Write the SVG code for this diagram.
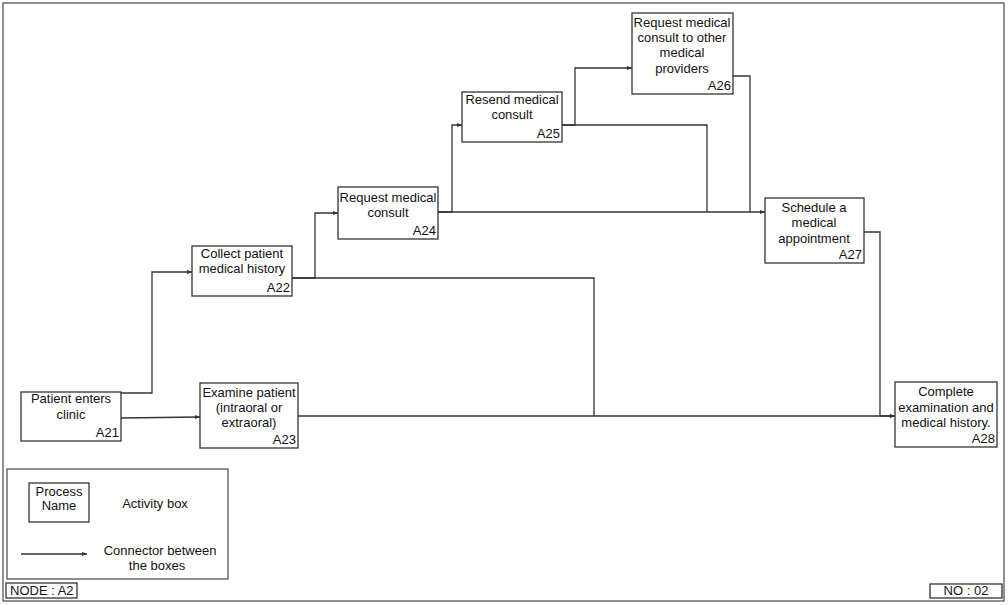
<svg xmlns="http://www.w3.org/2000/svg" width="1008" height="605" viewBox="0 0 1008 605">
<defs>
<marker id="arr" markerWidth="6" markerHeight="6" refX="5" refY="3" orient="auto" markerUnits="userSpaceOnUse">
<path d="M0,1 L5,3 L0,5 Z" fill="#333"/>
</marker>
<style>
.box{fill:#fff;stroke:#333;stroke-width:1.3}
.frame{fill:none;stroke:#555;stroke-width:1.3}
.t{font-family:"Liberation Sans",Arial,sans-serif;font-size:13px;fill:#111;text-anchor:middle}
.id{font-family:"Liberation Sans",Arial,sans-serif;font-size:13px;fill:#111;text-anchor:end}
.l{font-family:"Liberation Sans",Arial,sans-serif;font-size:13px;fill:#111}
.c{fill:none;stroke:#333;stroke-width:1.3}
</style>
</defs>
<rect x="0" y="0" width="1008" height="605" fill="#fff"/>
<rect class="frame" x="3" y="3" width="1001" height="598"/>

<g id="connectors">
<path class="c" d="M121,393 H152 V272 H192" marker-end="url(#arr)"/>
<path class="c" d="M121,418 L200,417" marker-end="url(#arr)"/>
<path class="c" d="M292,278 H315 V213 H338" marker-end="url(#arr)"/>
<path class="c" d="M292,278 H594 V416"/>
<path class="c" d="M298,416 H895" marker-end="url(#arr)"/>
<path class="c" d="M438,212 H452 V125 H462" marker-end="url(#arr)"/>
<path class="c" d="M438,212 H765" marker-end="url(#arr)"/>
<path class="c" d="M562,125 H575 V68 H632" marker-end="url(#arr)"/>
<path class="c" d="M562,125 H707 V212"/>
<path class="c" d="M733,76 H750 V212"/>
<path class="c" d="M864,232 H880 V416 H895" marker-end="url(#arr)"/>
</g>

<g id="A21">
<rect class="box" x="21" y="392" width="100" height="49"/>
<text class="t" x="71" y="403">Patient enters</text>
<text class="t" x="71" y="419">clinic</text>
<text class="id" x="119" y="437">A21</text>
</g>
<g id="A22">
<rect class="box" x="192" y="246" width="100" height="50"/>
<text class="t" x="242" y="258">Collect patient</text>
<text class="t" x="242" y="273">medical history</text>
<text class="id" x="290" y="292">A22</text>
</g>
<g id="A23">
<rect class="box" x="200" y="383" width="98" height="65"/>
<text class="t" x="249" y="397">Examine patient</text>
<text class="t" x="249" y="412">(intraoral or</text>
<text class="t" x="249" y="427">extraoral)</text>
<text class="id" x="296" y="444">A23</text>
</g>
<g id="A24">
<rect class="box" x="338" y="187" width="100" height="52"/>
<text class="t" x="388" y="202">Request medical</text>
<text class="t" x="388" y="217">consult</text>
<text class="id" x="436" y="235">A24</text>
</g>
<g id="A25">
<rect class="box" x="462" y="92" width="100" height="50"/>
<text class="t" x="512" y="104">Resend medical</text>
<text class="t" x="512" y="119">consult</text>
<text class="id" x="560" y="138">A25</text>
</g>
<g id="A26">
<rect class="box" x="632" y="13" width="101" height="81"/>
<text class="t" x="682" y="27">Request medical</text>
<text class="t" x="682" y="42">consult to other</text>
<text class="t" x="682" y="57">medical</text>
<text class="t" x="682" y="73">providers</text>
<text class="id" x="731" y="90">A26</text>
</g>
<g id="A27">
<rect class="box" x="765" y="198" width="99" height="65"/>
<text class="t" x="814" y="212">Schedule a</text>
<text class="t" x="814" y="227">medical</text>
<text class="t" x="814" y="243">appointment</text>
<text class="id" x="862" y="259">A27</text>
</g>
<g id="A28">
<rect class="box" x="895" y="382" width="102" height="65"/>
<text class="t" x="946" y="396">Complete</text>
<text class="t" x="946" y="412">examination and</text>
<text class="t" x="946" y="427">medical history.</text>
<text class="id" x="995" y="443">A28</text>
</g>

<g id="legend">
<rect class="frame" x="7" y="469" width="221" height="110"/>
<rect class="box" x="29" y="483" width="60" height="39"/>
<text class="t" x="59" y="496">Process</text>
<text class="t" x="59" y="510">Name</text>
<text class="t" x="155" y="508">Activity box</text>
<path class="c" d="M21,554 H87" marker-end="url(#arr)"/>
<text class="t" x="160" y="555">Connector between</text>
<text class="t" x="157" y="570">the boxes</text>
</g>
<g id="node-label">
<rect class="box" x="6" y="583" width="71" height="15"/>
<text class="l" x="10" y="595">NODE : A2</text>
</g>
<g id="no-label">
<rect class="box" x="930" y="584" width="72" height="14"/>
<text class="t" x="966" y="595">NO : 02</text>
</g>
</svg>
